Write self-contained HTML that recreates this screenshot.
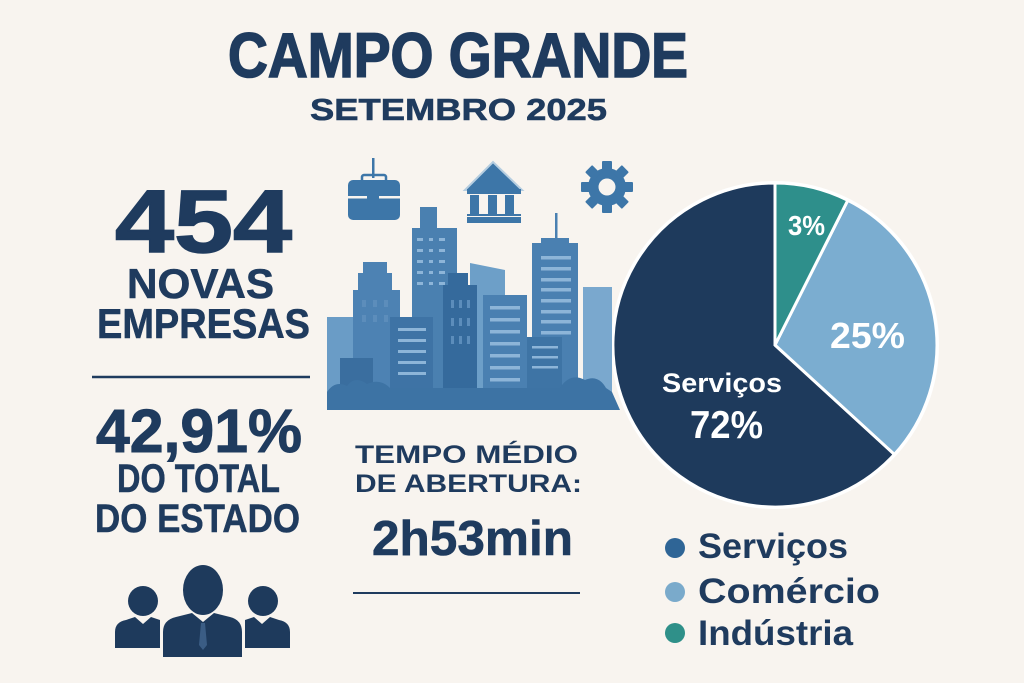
<!DOCTYPE html>
<html><head><meta charset="utf-8"><style>
html,body{margin:0;padding:0;background:#f8f4ef;}
svg{display:block;}
text{font-family:"Liberation Sans",sans-serif;font-weight:bold;}
</style></head><body>
<svg width="1024" height="683" viewBox="0 0 1024 683" xmlns="http://www.w3.org/2000/svg">
<rect width="1024" height="683" fill="#f8f4ef"/>
<g fill="#1f3b5e">
<text x="228" y="77" font-size="63" textLength="460" lengthAdjust="spacingAndGlyphs" stroke="#1f3b5e" stroke-width="1.6">CAMPO GRANDE</text>
<text x="310" y="120" font-size="31" textLength="297" lengthAdjust="spacingAndGlyphs" stroke="#1f3b5e" stroke-width="0.6">SETEMBRO 2025</text>
<text x="115" y="252" font-size="89" textLength="177" lengthAdjust="spacingAndGlyphs" stroke="#1f3b5e" stroke-width="1.5">454</text>
<text x="127" y="298" font-size="42" textLength="147" lengthAdjust="spacingAndGlyphs" stroke="#1f3b5e" stroke-width="0.6">NOVAS</text>
<text x="97" y="338" font-size="42" textLength="213" lengthAdjust="spacingAndGlyphs" stroke="#1f3b5e" stroke-width="0.6">EMPRESAS</text>
<text x="96" y="452" font-size="61" textLength="206" lengthAdjust="spacingAndGlyphs" stroke="#1f3b5e" stroke-width="1">42,91%</text>
<text x="117" y="492" font-size="40" textLength="163" lengthAdjust="spacingAndGlyphs" stroke="#1f3b5e" stroke-width="0.5">DO TOTAL</text>
<text x="95" y="532" font-size="40" textLength="205" lengthAdjust="spacingAndGlyphs" stroke="#1f3b5e" stroke-width="0.5">DO ESTADO</text>
<text x="355" y="463" font-size="25" textLength="223" lengthAdjust="spacingAndGlyphs">TEMPO MÉDIO</text>
<text x="355" y="492" font-size="25" textLength="227" lengthAdjust="spacingAndGlyphs">DE ABERTURA:</text>
<text x="372" y="555" font-size="49" textLength="201" lengthAdjust="spacingAndGlyphs" stroke="#1f3b5e" stroke-width="0.6">2h53min</text>
<text x="698" y="558" font-size="35" textLength="150" lengthAdjust="spacingAndGlyphs">Serviços</text>
<text x="698" y="603" font-size="35" textLength="182" lengthAdjust="spacingAndGlyphs">Comércio</text>
<text x="698" y="645" font-size="35" textLength="155" lengthAdjust="spacingAndGlyphs">Indústria</text>
</g>
<line x1="92" y1="377" x2="310" y2="377" stroke="#1f3b5e" stroke-width="2.5"/>
<line x1="353" y1="593" x2="580" y2="593" stroke="#1f3b5e" stroke-width="2"/>
<circle cx="675" cy="548" r="10" fill="#2f6596"/>
<circle cx="675" cy="592" r="10" fill="#7aaacb"/>
<circle cx="675" cy="633" r="10" fill="#2f9089"/>

<!-- Pie -->
<g stroke="#ffffff" stroke-width="3" stroke-linejoin="round">
<path d="M775,345 L894.4,454.4 A162,162 0 1 1 775,183 Z" fill="#1e3a5c"/>
<path d="M775,345 L847.8,200.3 A162,162 0 0 1 894.4,454.4 Z" fill="#7badd0"/>
<path d="M775,345 L775,183 A162,162 0 0 1 847.8,200.3 Z" fill="#2e8f8b"/>
</g>
<circle cx="775" cy="345" r="163" fill="none" stroke="#ffffff" stroke-width="2"/>
<g fill="#ffffff">
<text x="788" y="235" font-size="28" textLength="37" lengthAdjust="spacingAndGlyphs">3%</text>
<text x="830" y="348" font-size="36" textLength="75" lengthAdjust="spacingAndGlyphs">25%</text>
<text x="662" y="392" font-size="27" textLength="120" lengthAdjust="spacingAndGlyphs">Serviços</text>
<text x="690" y="438" font-size="39" textLength="73" lengthAdjust="spacingAndGlyphs">72%</text>
</g>

<!-- Icons -->
<g fill="#3d76a8">
<rect x="372" y="158" width="2.5" height="20"/>
<rect x="362" y="175" width="24" height="7" rx="2" fill="none" stroke="#3d76a8" stroke-width="2.5"/>
<rect x="348" y="180" width="52" height="40" rx="5"/>
<rect x="348" y="196" width="52" height="2.5" fill="#f8f4ef"/>
<rect x="367" y="193" width="12" height="8" rx="1"/>
<polygon points="465,190 493,162 522,190" fill="#3d76a8" stroke="#b5cde0" stroke-width="2"/>
<rect x="467" y="189" width="54" height="5"/>
<rect x="470" y="195" width="9" height="19"/>
<rect x="488" y="195" width="9" height="19"/>
<rect x="505" y="195" width="9" height="19"/>
<rect x="467" y="214" width="54" height="2"/>
<rect x="467" y="217" width="54" height="6"/>
</g>
<g fill="#3d76a8" transform="translate(607,187)">
<circle r="19"/>
<g>
<rect x="-5" y="-26" width="10" height="12" rx="1"/>
<rect x="-5" y="-26" width="10" height="12" rx="1" transform="rotate(45)"/>
<rect x="-5" y="-26" width="10" height="12" rx="1" transform="rotate(90)"/>
<rect x="-5" y="-26" width="10" height="12" rx="1" transform="rotate(135)"/>
<rect x="-5" y="-26" width="10" height="12" rx="1" transform="rotate(180)"/>
<rect x="-5" y="-26" width="10" height="12" rx="1" transform="rotate(225)"/>
<rect x="-5" y="-26" width="10" height="12" rx="1" transform="rotate(270)"/>
<rect x="-5" y="-26" width="10" height="12" rx="1" transform="rotate(315)"/>
</g>
<circle r="8.5" fill="#f8f4ef"/>
</g>

<!-- City -->
<g>
<rect x="327" y="317" width="30" height="93" fill="#6a9cc6"/>
<rect x="363" y="262" width="24" height="12" fill="#4d82b3"/>
<rect x="358" y="273" width="34" height="18" fill="#4d82b3"/>
<rect x="353" y="290" width="47" height="120" fill="#4d82b3"/>
<rect x="420" y="207" width="17" height="22" fill="#4a80b0"/>
<rect x="412" y="228" width="45" height="182" fill="#4a80b0"/>
<polygon points="470,263 505,270 505,410 470,410" fill="#6d9fc8"/>
<rect x="555" y="213" width="2.5" height="26" fill="#4a80b1"/>
<rect x="541" y="238" width="28" height="6" fill="#4a80b1"/>
<rect x="532" y="243" width="46" height="167" fill="#4a80b1"/>
<rect x="583" y="287" width="29" height="123" fill="#7aa8ce"/>
<rect x="448" y="273" width="20" height="14" fill="#356a9c"/>
<rect x="443" y="285" width="34" height="125" fill="#356a9c"/>
<rect x="390" y="317" width="43" height="93" fill="#3e73a5"/>
<rect x="483" y="295" width="44" height="115" fill="#4a80b1"/>
<rect x="527" y="337" width="35" height="73" fill="#3e74a5"/>
<rect x="340" y="358" width="33" height="52" fill="#3a6e9f"/>
<!-- windows -->
<g fill="#8db5d8">
<rect x="417" y="238" width="6" height="3"/><rect x="429" y="238" width="4" height="3"/><rect x="439" y="238" width="6" height="3"/>
<rect x="417" y="249" width="6" height="3"/><rect x="429" y="249" width="4" height="3"/><rect x="439" y="249" width="6" height="3"/>
<rect x="417" y="260" width="6" height="3"/><rect x="429" y="260" width="4" height="3"/><rect x="439" y="260" width="6" height="3"/>
<rect x="417" y="271" width="6" height="3"/><rect x="429" y="271" width="4" height="3"/><rect x="439" y="271" width="6" height="3"/>
<rect x="417" y="282" width="6" height="3"/><rect x="429" y="282" width="4" height="3"/><rect x="439" y="282" width="6" height="3"/>
<rect x="398" y="328" width="28" height="3"/><rect x="398" y="339" width="28" height="3"/><rect x="398" y="350" width="28" height="3"/><rect x="398" y="361" width="28" height="3"/><rect x="398" y="372" width="28" height="3"/>
<rect x="490" y="306" width="30" height="3.5"/><rect x="490" y="318" width="30" height="3.5"/><rect x="490" y="330" width="30" height="3.5"/><rect x="490" y="342" width="30" height="3.5"/><rect x="490" y="354" width="30" height="3.5"/><rect x="490" y="366" width="30" height="3.5"/><rect x="490" y="378" width="30" height="3.5"/>
<rect x="541" y="256" width="30" height="3.5"/><rect x="541" y="267" width="30" height="3.5"/><rect x="541" y="278" width="30" height="3.5"/><rect x="541" y="288" width="30" height="3.5"/><rect x="541" y="299" width="30" height="3.5"/><rect x="541" y="310" width="30" height="3.5"/><rect x="541" y="320" width="30" height="3.5"/><rect x="541" y="331" width="30" height="3.5"/>
<rect x="532" y="346" width="26" height="2.5"/><rect x="532" y="356" width="26" height="2.5"/><rect x="532" y="366" width="26" height="2.5"/>
</g>
<g fill="#5c8dbb">
<rect x="362" y="300" width="4" height="7"/><rect x="373" y="300" width="4" height="7"/><rect x="384" y="300" width="4" height="7"/>
<rect x="362" y="315" width="4" height="7"/><rect x="373" y="315" width="4" height="7"/><rect x="384" y="315" width="4" height="7"/>
<rect x="451" y="300" width="3" height="8"/><rect x="459" y="300" width="3" height="8"/><rect x="467" y="300" width="3" height="8"/>
<rect x="451" y="318" width="3" height="8"/><rect x="459" y="318" width="3" height="8"/><rect x="467" y="318" width="3" height="8"/>
<rect x="451" y="336" width="3" height="8"/><rect x="459" y="336" width="3" height="8"/><rect x="467" y="336" width="3" height="8"/>
</g>
<path d="M327,410 L327,392 Q335,380 347,386 Q355,375 367,384 Q380,378 390,388 L560,388 Q570,372 585,380 Q598,374 606,388 L612,392 L620,410 Z" fill="#3d73a4"/>
</g>

<!-- People -->
<g fill="#1e3a5c">
<ellipse cx="203" cy="590" rx="20" ry="25"/>
<path d="M163,657 L163,632 Q163,620 176,617 L192,613 L203,622 L214,613 L230,617 Q242,620 242,632 L242,657 Z"/>
<circle cx="143" cy="601" r="15"/>
<path d="M115,648 L115,632 Q115,622 126,620 L135,617 L143,624 L151,617 L160,620 L160,648 Z"/>
<circle cx="263" cy="601" r="15"/>
<path d="M290,648 L290,632 Q290,622 279,620 L270,617 L262,624 L254,617 L245,620 L245,648 Z"/>
</g>
<polygon points="201,623 205,623 207,645 203,650 199,645" fill="#3b5d85"/>
</svg>
</body></html>
